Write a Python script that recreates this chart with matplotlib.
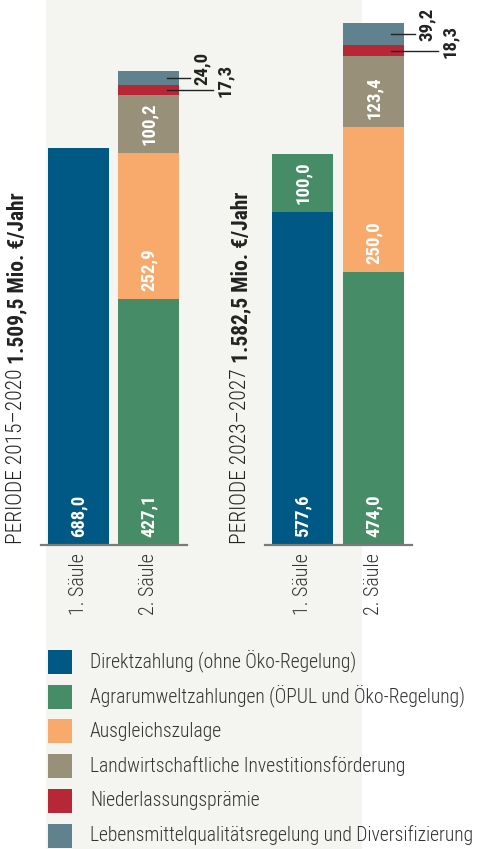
import matplotlib
matplotlib.use("Agg")
import matplotlib.pyplot as plt
from matplotlib import font_manager
from matplotlib.patches import Rectangle

# --- data -------------------------------------------------------------
periods = ["PERIODE 2015–2020", "PERIODE 2023–2027"]
totals = ["1.509,5 Mio. €/Jahr", "1.582,5 Mio. €/Jahr"]
columns = ["1. Säule", "2. Säule"]

series = [
    "Direktzahlung (ohne Öko-Regelung)",
    "Agrarumweltzahlungen (ÖPUL und Öko-Regelung)",
    "Ausgleichszulage",
    "Landwirtschaftliche Investitionsförderung",
    "Niederlassungsprämie",
    "Lebensmittelqualitätsregelung und Diversifizierung",
]
colors = ["#005885", "#468c67", "#f7aa6c", "#99907a", "#b72736", "#5f828e"]

# values per period -> [1. Säule, 2. Säule]
direkt = [[688.0, 0.0], [577.6, 0.0]]
agrar = [[0.0, 427.1], [100.0, 474.0]]
ausgleich = [[0.0, 252.9], [0.0, 250.0]]
invest = [[0.0, 100.2], [0.0, 123.4]]
niederl = [[0.0, 17.3], [0.0, 18.3]]
lebensm = [[0.0, 24.0], [0.0, 39.2]]
stacks = [direkt, agrar, ausgleich, invest, niederl, lebensm]

# --- fonts ------------------------------------------------------------
available = {f.name for f in font_manager.fontManager.ttflist}


def pick(*names):
    for n in names:
        if n in available:
            return n
    return "DejaVu Sans"


FONT = pick("Roboto Condensed", "Liberation Sans Narrow", "Archivo Narrow", "PT Sans Narrow")
k = 0.75 if FONT == "DejaVu Sans" else 1.0
plt.rcParams["font.family"] = [FONT, "DejaVu Sans"]

W, H = 482, 849
PANEL = "#f4f4f0"
TEXT = "#222222"

fig = plt.figure(figsize=(W / 100, H / 100), dpi=100)

# background axes in pixel units (y down)
bg = fig.add_axes([0, 0, 1, 1], zorder=0)
bg.set_xlim(0, W)
bg.set_ylim(H, 0)
bg.axis("off")
bg.add_patch(Rectangle((46, 0), 316, H, color=PANEL, lw=0))

base_px = 545
scale = 0.577  # px per Mio.
ymax = base_px / scale
axes_x = [(41, 146), (265, 147)]

for p, (left, width) in enumerate(axes_x):
    ax = fig.add_axes([left / W, (H - base_px) / H, width / W, base_px / H], zorder=1)
    ax.patch.set_alpha(0)
    ax.set_xlim(-0.53, 1.54)
    ax.set_ylim(0, ymax)
    for s in ax.spines.values():
        s.set_visible(False)
    ax.set_yticks([])
    ax.set_xticks([0, 1], columns, rotation=90, fontsize=14.5 * k,
                  fontweight="light", color="#333333")
    ax.tick_params(axis="x", length=0, pad=6)
    ax.axhline(0, color="#7a7a7a", lw=1.6, zorder=3, clip_on=False)

    bottoms = [0.0, 0.0]
    for i, vals in enumerate(stacks):
        v = vals[p]
        ax.bar([0, 1], v, width=0.865, bottom=bottoms, color=colors[i], lw=0, zorder=2)
        for c in range(2):
            if v[c] <= 0:
                continue
            txt = f"{v[c]:.1f}".replace(".", ",")
            if v[c] >= 50:
                ax.annotate(txt, xy=(c, bottoms[c]), xytext=(0, 8),
                            textcoords="offset pixels", rotation=90,
                            rotation_mode="anchor", ha="left", va="center",
                            color="white", fontsize=13.5 * k, fontweight="bold",
                            zorder=4)
            else:
                ymid = bottoms[c] + v[c] / 2
                xend = c + (0.58 if i == 5 else 0.91)
                ax.plot([c + 0.25, xend], [ymid, ymid], color="#222222", lw=1,
                        clip_on=False, zorder=4)
                ax.annotate(txt, xy=(xend, ymid), xytext=(12, -7),
                            textcoords="offset pixels", rotation=90,
                            rotation_mode="anchor", ha="left", va="center",
                            color=TEXT, fontsize=13.5 * k, fontweight="bold",
                            annotation_clip=False)
        bottoms = [bottoms[c] + v[c] for c in range(2)]

# rotated period labels: light part then bold total
for p, xc in enumerate([17, 241]):
    light = bg.text(xc, 544, periods[p], rotation=90, rotation_mode="anchor",
                    ha="left", va="center", fontsize=15.5 * k,
                    fontweight="light", color=TEXT)
    bg.annotate(totals[p], xy=(0.5, 1), xycoords=light, xytext=(0, 5),
                textcoords="offset pixels", rotation=90, rotation_mode="anchor",
                ha="left", va="center", fontsize=15.5 * k, fontweight="bold",
                color=TEXT)

# legend
for i, name in enumerate(series):
    yc = 662 + i * 34.7
    bg.add_patch(Rectangle((48, yc - 12), 24, 24, color=colors[i], lw=0))
    bg.text(90, yc, name, va="center", ha="left", fontsize=14.1 * k,
            fontweight="light", color="#333333")

fig.savefig("out.png", dpi=100)
